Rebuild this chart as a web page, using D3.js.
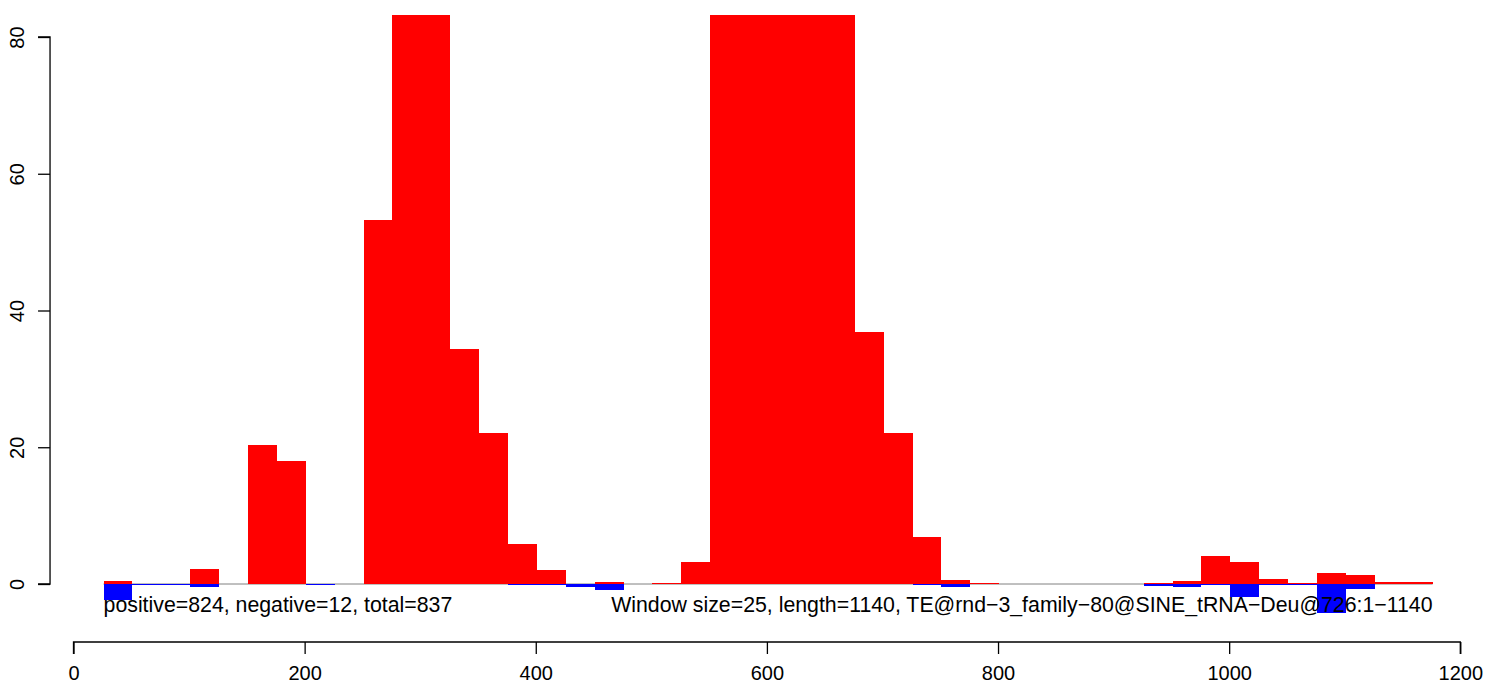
<!DOCTYPE html>
<html>
<head>
<meta charset="utf-8">
<script src="https://cdn.jsdelivr.net/npm/d3@7"></script>
<style>
  html, body { margin: 0; padding: 0; background: #fff; }
  svg text { font-family: "Liberation Sans", Arial, Helvetica, sans-serif; fill: #000; }
</style>
</head>
<body>
<svg id="chart" width="1503" height="687"></svg>
<script>
// Window start positions (window size 25)
const windowStarts = [26, 51, 76, 101, 126, 151, 176, 201, 226, 251, 276, 301, 326, 351, 376, 401, 426, 451, 476, 501, 526, 551, 576, 601, 626, 651, 676, 701, 726, 751, 776, 801, 826, 851, 876, 901, 926, 951, 976, 1001, 1026, 1051, 1076, 1101, 1126, 1151];
const windowSize = 25;
// Positive-strand coverage (red), per window
const positiveValues = [0.5, 0, 0, 2.2, 0, 20.3, 18.0, 0, 0, 53.2, 120, 110, 34.4, 22.1, 5.9, 2.05, 0, 0.35, 0, 0.1, 3.2, 95, 110, 115, 105, 100, 36.9, 22.1, 6.9, 0.6, 0.2, 0, 0, 0, 0, 0, 0.2, 0.4, 4.15, 3.2, 0.7, 0.15, 1.6, 1.35, 0.25, 0.25];
// Negative-strand coverage (blue), per window
const negativeValues = [-2.4, -0.15, -0.15, -0.4, 0, 0, 0, -0.15, 0, 0, 0, 0, 0, 0, -0.15, -0.15, -0.4, -0.85, 0, 0, 0, 0, 0, 0, 0, 0, 0, 0, -0.2, -0.5, 0, 0, 0, 0, 0, 0, -0.25, -0.45, -0.15, -1.9, -0.2, -0.15, -4.2, -0.8, 0, 0];
const xTicks = [0, 200, 400, 600, 800, 1000, 1200];
const yTicks = [0, 20, 40, 60, 80];
const leftLabel = "positive=824, negative=12, total=837";
const rightLabel = "Window size=25, length=1140, TE@rnd\u22123_family\u221280@SINE_tRNA\u2212Deu@726:1\u22121140";

const svg = d3.select("#chart");
const x = d3.scaleLinear().domain([0, 1200]).range([73.5, 1460.3]);
const y = d3.scaleLinear().domain([0, 80]).range([584, 37]);

// plot region (R usr extents)
const plotX0 = x(-20.3), plotX1 = x(1222), plotY0 = y(83.2), plotY1 = y(-8.48);

svg.append("defs").append("clipPath").attr("id", "plotclip")
  .append("rect").attr("x", plotX0).attr("y", plotY0)
  .attr("width", plotX1 - plotX0).attr("height", plotY1 - plotY0);

const g = svg.append("g").attr("clip-path", "url(#plotclip)");

// baseline
g.append("line")
  .attr("x1", x(windowStarts[0])).attr("x2", x(windowStarts[windowStarts.length - 1] + windowSize))
  .attr("y1", y(0)).attr("y2", y(0))
  .attr("stroke", "#808080").attr("stroke-width", 1);

const data = windowStarts.map((s, i) => ({ s, pos: positiveValues[i], neg: negativeValues[i] }));

g.selectAll("rect.pos").data(data.filter(d => d.pos > 0)).join("rect")
  .attr("class", "pos")
  .attr("x", d => x(d.s)).attr("width", d => x(d.s + windowSize) - x(d.s))
  .attr("y", d => y(d.pos)).attr("height", d => y(0) - y(d.pos))
  .attr("fill", "#ff0000").attr("shape-rendering", "crispEdges");

g.selectAll("rect.neg").data(data.filter(d => d.neg < 0)).join("rect")
  .attr("class", "neg")
  .attr("x", d => x(d.s)).attr("width", d => x(d.s + windowSize) - x(d.s))
  .attr("y", y(0)).attr("height", d => Math.max(1, y(d.neg) - y(0)))
  .attr("fill", "#0000ff").attr("shape-rendering", "crispEdges");

// annotations
svg.append("text").attr("x", x(windowStarts[0])).attr("y", 612)
  .attr("font-size", 21.3).attr("text-anchor", "start").text(leftLabel);
svg.append("text").attr("x", x(windowStarts[windowStarts.length - 1] + windowSize)).attr("y", 612)
  .attr("font-size", 21.3).attr("text-anchor", "end").text(rightLabel);

// x axis
const xAxis = d3.axisBottom(x).tickValues(xTicks).tickSize(12).tickPadding(12).tickFormat(d3.format("d"));
const gx = svg.append("g").attr("transform", `translate(0,${plotY1})`).call(xAxis);
gx.select(".domain").attr("d", `M${x(0)},12V0H${x(1200)}V12`).attr("stroke", "#000").attr("stroke-width", 1.3);
gx.selectAll(".tick line").attr("stroke", "#000").attr("stroke-width", 1.3);
gx.selectAll(".tick text").attr("font-size", 20).attr("font-family", "Liberation Sans, Arial, sans-serif");

// y axis
const yAxis = d3.axisLeft(y).tickValues(yTicks).tickSize(12).tickFormat(d3.format("d"));
const gy = svg.append("g").attr("transform", `translate(${plotX0},0)`).call(yAxis);
gy.select(".domain").attr("d", `M-12,${y(0)}H0V${y(80)}H-12`).attr("stroke", "#000").attr("stroke-width", 1.3);
gy.selectAll(".tick line").attr("stroke", "#000").attr("stroke-width", 1.3);
gy.selectAll(".tick text")
  .attr("font-size", 20).attr("font-family", "Liberation Sans, Arial, sans-serif")
  .attr("x", null).attr("dy", null).attr("text-anchor", "middle")
  .attr("transform", "translate(-26,0) rotate(-90)");
</script>
</body>
</html>
